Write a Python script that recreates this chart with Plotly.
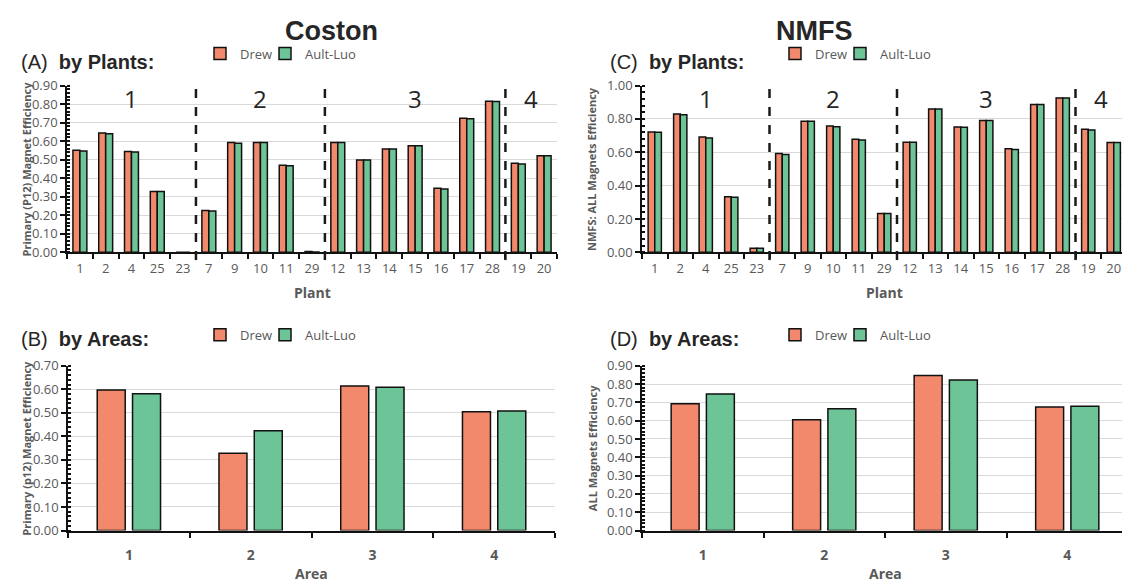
import plotly.graph_objects as go

# ---------------- data ----------------
plants = ["1", "2", "4", "25", "23", "7", "9", "10", "11", "29",
          "12", "13", "14", "15", "16", "17", "28", "19", "20"]
plant_area = [1, 1, 1, 1, 1, 2, 2, 2, 2, 2, 3, 3, 3, 3, 3, 3, 3, 4, 4]

coston_drew = [0.551, 0.644, 0.544, 0.328, 0.0, 0.226, 0.593, 0.593, 0.470, 0.004,
               0.593, 0.498, 0.558, 0.575, 0.346, 0.723, 0.816, 0.481, 0.521]
coston_ault = [0.547, 0.640, 0.542, 0.328, 0.0, 0.223, 0.589, 0.593, 0.467, 0.002,
               0.593, 0.498, 0.558, 0.575, 0.342, 0.721, 0.814, 0.477, 0.521]

nmfs_drew = [0.722, 0.829, 0.691, 0.334, 0.025, 0.592, 0.786, 0.757, 0.678, 0.233,
             0.660, 0.860, 0.751, 0.790, 0.621, 0.887, 0.926, 0.738, 0.658]
nmfs_ault = [0.720, 0.825, 0.685, 0.330, 0.025, 0.586, 0.786, 0.753, 0.674, 0.233,
             0.660, 0.860, 0.750, 0.790, 0.617, 0.887, 0.926, 0.734, 0.658]

areas = ["1", "2", "3", "4"]
coston_area_drew = [0.597, 0.328, 0.614, 0.505]
coston_area_ault = [0.581, 0.424, 0.609, 0.508]
nmfs_area_drew = [0.693, 0.605, 0.847, 0.675]
nmfs_area_ault = [0.746, 0.665, 0.822, 0.679]

series_names = ["Drew", "Ault-Luo"]

# ---------------- style ----------------
W, H = 1122, 588
DREW = "#F2896C"
AULT = "#6CC497"
GRID = "#D9D9D9"
TICK = "#595959"
DARK = "#262626"
FONT = "Open Sans, Arial, sans-serif"
TFONT = "Arial, Liberation Sans, sans-serif"


def fx(px):
    return px / W


def fy(py):
    return 1 - py / H


fig = go.Figure()

panels = [
    # (xaxis, yaxis, legends, cats, drew, ault, width, off_d, off_a)
    ("x", "y", ("legend", "legend2"), plants, coston_drew, coston_ault, 0.27, -0.27, 0.0),
    ("x2", "y2", ("legend3", "legend4"), plants, nmfs_drew, nmfs_ault, 0.26, -0.26, 0.0),
    ("x3", "y3", ("legend5", "legend6"), areas, coston_area_drew, coston_area_ault, 0.23, -0.26, 0.03),
    ("x4", "y4", ("legend7", "legend8"), areas, nmfs_area_drew, nmfs_area_ault, 0.23, -0.26, 0.03),
]
for xa, ya, lgs, cats, d, a, w, od, oa in panels:
    for name, vals, col, off, lg in [(series_names[0], d, DREW, od, lgs[0]),
                                     (series_names[1], a, AULT, oa, lgs[1])]:
        fig.add_trace(go.Bar(
            x=cats, y=vals, name=name, xaxis=xa, yaxis=ya, legend=lg,
            width=w, offset=off,
            marker=dict(color=col, line=dict(color="#111111", width=1.5)),
            showlegend=True,
        ))

xcommon = dict(type="category", showline=True, linecolor="#111111", linewidth=2,
               ticks="outside", ticklen=5, tickwidth=1.5, tickcolor="#111111",
               tickson="boundaries", showgrid=False, zeroline=False)
ycommon = dict(showline=True, linecolor="#111111", linewidth=1.5,
               ticks="outside", ticklen=5, tickwidth=1.5, tickcolor="#111111",
               showgrid=True, gridcolor=GRID, gridwidth=1, zeroline=False,
               tickformat=".2f", tickfont=dict(family=FONT, size=13, color=TICK))

fig.update_layout(
    width=W, height=H,
    margin=dict(l=0, r=0, t=0, b=0),
    paper_bgcolor="white", plot_bgcolor="white",
    barmode="overlay",
    xaxis=dict(xcommon, domain=[fx(67), fx(557)], anchor="y", range=[-0.5, 18.5],
               tickfont=dict(family=FONT, size=13, color=TICK), ticklabelstandoff=3),
    yaxis=dict(ycommon, domain=[fy(251), fy(79)], anchor="x", range=[0, 0.9], dtick=0.1,
               minor=dict(dtick=0.02, ticks="inside", ticklen=3, tickcolor="#111111", showgrid=False)),
    xaxis2=dict(xcommon, domain=[fx(642), 1], anchor="y2", range=[-0.5, -0.5 + (W - 642) / 25.5],
                tickfont=dict(family=FONT, size=13, color=TICK), ticklabelstandoff=3),
    yaxis2=dict(ycommon, domain=[fy(251), fy(79)], anchor="x2", range=[0, 1.0], dtick=0.2,
                minor=dict(dtick=0.04, ticks="inside", ticklen=3, tickcolor="#111111", showgrid=False)),
    xaxis3=dict(xcommon, domain=[fx(68), fx(555)], anchor="y3", range=[-0.5, 3.5],
                tickfont=dict(family=FONT, size=14, color=TICK, weight="bold"), ticklabelstandoff=11),
    yaxis3=dict(ycommon, domain=[fy(538), fy(368)], anchor="x3", range=[0, 0.7], dtick=0.1,
                minor=dict(dtick=0.02, ticks="inside", ticklen=3, tickcolor="#111111", showgrid=False)),
    xaxis4=dict(xcommon, domain=[fx(642), 1], anchor="y4", range=[-0.5, -0.5 + (W - 642) / 121.5],
                tickfont=dict(family=FONT, size=14, color=TICK, weight="bold"), ticklabelstandoff=11),
    yaxis4=dict(ycommon, domain=[fy(538), fy(368)], anchor="x4", range=[0, 0.9], dtick=0.1,
                minor=dict(dtick=0.02, ticks="inside", ticklen=3, tickcolor="#111111", showgrid=False)),
)

leg = dict(orientation="h", xanchor="left", yanchor="middle", bgcolor="rgba(0,0,0,0)",
           font=dict(family=FONT, size=13, color=TICK), itemwidth=30)
fig.update_layout(
    legend=dict(leg, x=fx(200), y=fy(46)),
    legend2=dict(leg, x=fx(265), y=fy(46)),
    legend3=dict(leg, x=fx(775), y=fy(46)),
    legend4=dict(leg, x=fx(840), y=fy(46)),
    legend5=dict(leg, x=fx(200), y=fy(336)),
    legend6=dict(leg, x=fx(265), y=fy(336)),
    legend7=dict(leg, x=fx(775), y=fy(336)),
    legend8=dict(leg, x=fx(840), y=fy(336)),
)

ann = []
# big titles
ann.append(dict(text="<b>Coston</b>", x=fx(283), y=fy(23), xref="paper", yref="paper",
                yanchor="middle", showarrow=False, font=dict(family=TFONT, size=27, color=DARK)))
ann.append(dict(text="<b>NMFS</b>", x=fx(855), y=fy(23), xref="paper", yref="paper",
                yanchor="middle", showarrow=False, font=dict(family=TFONT, size=27, color=DARK)))
# panel labels
for lab, sub, px, py in [("(A)", "by Plants:", 19, 55), ("(C)", "by Plants:", 608, 55),
                         ("(B)", "by Areas:", 19, 340), ("(D)", "by Areas:", 608, 340)]:
    ann.append(dict(text=f"{lab}  <b>{sub}</b>", x=fx(px), y=fy(py), xref="paper", yref="paper",
                    xanchor="left", yanchor="middle", showarrow=False,
                    font=dict(family=TFONT, size=20, color=DARK)))

# y-axis titles
for txt, px, yr in [("Primary (P12) Magnet Efficiency", 17, "y domain"),
                    ("NMFS: ALL Magnets Efficiency", 592, "y2 domain"),
                    ("Primary (p12) Magnet Efficiency", 17, "y3 domain"),
                    ("ALL Magnets Efficiency", 592, "y4 domain")]:
    ann.append(dict(text=f"<b>{txt}</b>", x=fx(px), y=0.5, xref="paper", yref=yr,
                    textangle=-90, showarrow=False, yanchor="middle",
                    font=dict(family=FONT, size=11, color=TICK)))

# x-axis titles
for txt, xr, xv, py in [("Plant", "x", (len(plants) - 1) / 2, 292),
                        ("Plant", "x2", (len(plants) - 1) / 2, 292),
                        ("Area", "x3", (len(areas) - 1) / 2, 582),
                        ("Area", "x4", (len(areas) - 1) / 2, 582)]:
    ann.append(dict(text=f"<b>{txt}</b>", x=xv, y=fy(py), xref=xr, yref="paper",
                    yanchor="middle", showarrow=False, font=dict(family=FONT, size=14, color=TICK)))

# area group dividers and labels on plant panels
groups = []
for i, a in enumerate(plant_area):
    if not groups or groups[-1][0] != a:
        groups.append([a, i, i])
    else:
        groups[-1][2] = i

shapes = []
for xr in ["x", "x2"]:
    for gi, (a, s, e) in enumerate(groups):
        ann.append(dict(text=str(a), x=(s + e) / 2, y=fy(92), xref=xr, yref="paper",
                        yanchor="middle", showarrow=False,
                        font=dict(family=FONT, size=24, color=DARK)))
        if gi > 0:
            shapes.append(dict(type="line", xref=xr, yref="paper", x0=s - 0.5, x1=s - 0.5,
                               y0=fy(259), y1=fy(76),
                               line=dict(color="#1a1a1a", width=2.5, dash="dash")))

fig.update_layout(annotations=ann, shapes=shapes)

fig.write_html("out.html")
